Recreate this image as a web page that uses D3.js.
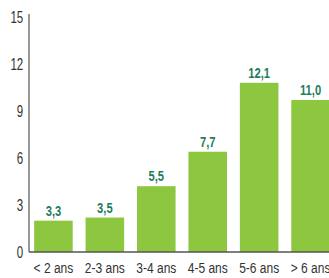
<!DOCTYPE html>
<html lang="fr">
<head>
  <meta charset="UTF-8" />
  <title>Répartition par âge</title>
  <script src="https://cdn.jsdelivr.net/npm/d3@7"></script>
  <style>
    body {
      margin: 0;
      background: #fff;
    }
    svg text {
      font-family: "Liberation Sans", Arial, sans-serif;
    }
  </style>
</head>
<body>
  <div id="chart"></div>
  <script>
    // Data
    const categories = ["< 2 ans", "2-3 ans", "3-4 ans", "4-5 ans", "5-6 ans", "> 6 ans"];
    const values = [3.3, 3.5, 5.5, 7.7, 12.1, 11.0];
    const yTicks = [0, 3, 6, 9, 12, 15];

    const width = 329, height = 278;

    const svg = d3.select("#chart")
      .append("svg")
        .attr("width", width)
        .attr("height", height);

    const x = d3.scaleBand()
      .domain(categories)
      .range([29, 335])
      .paddingInner(0.25)
      .paddingOuter(0.1);

    // axis scale
    const y = d3.scaleLinear()
      .domain([0, 15])
      .range([252, 17]);

    // the printed bars sit about 1.3 units lower than their labels
    const yBar = d3.scaleLinear()
      .domain([1.3, 16.3])
      .range([252, 17]);

    // bars
    svg.selectAll("rect.bar")
      .data(values)
      .join("rect")
        .attr("class", "bar")
        .attr("x", (d, i) => x(categories[i]))
        .attr("width", x.bandwidth())
        .attr("y", d => yBar(d))
        .attr("height", d => y(0) - yBar(d))
        .attr("fill", "#8dc63f");

    // value labels (source uses a condensed face, so squeeze horizontally)
    svg.selectAll("g.val")
      .data(values)
      .join("g")
        .attr("class", "val")
        .attr("transform", (d, i) => `translate(${x(categories[i]) + x.bandwidth() / 2},${yBar(d) - 5})`)
      .append("text")
        .attr("transform", "scale(0.8,1)")
        .attr("text-anchor", "middle")
        .attr("font-size", 14)
        .attr("font-weight", "bold")
        .attr("fill", "#1f7d5c")
        .text(d => d.toFixed(1).replace(".", ","));

    // y axis
    const yAxis = svg.append("g")
      .attr("transform", "translate(29,0)")
      .call(d3.axisLeft(y).tickValues(yTicks).tickSize(0).tickPadding(8));
    yAxis.select(".domain")
      .attr("d", `M0,${y(15) - 3}V${y(0)}`)
      .attr("stroke", "#555")
      .attr("stroke-width", 1.2);
    yAxis.selectAll("text")
      .attr("transform", "scale(0.72,1)")
      .attr("font-size", 16)
      .attr("fill", "#333")
      .style("font-family", "'Liberation Sans', Arial, sans-serif");

    // x axis
    const xAxis = svg.append("g")
      .attr("transform", `translate(0,${y(0)})`)
      .call(d3.axisBottom(x).tickSize(0).tickPadding(10));
    xAxis.select(".domain")
      .attr("d", `M29,0H${width}`)
      .attr("stroke", "#555")
      .attr("stroke-width", 1.5);
    xAxis.selectAll("text")
      .attr("transform", "scale(0.8,1)")
      .attr("font-size", 15)
      .attr("fill", "#333")
      .style("font-family", "'Liberation Sans', Arial, sans-serif");
  </script>
</body>
</html>
